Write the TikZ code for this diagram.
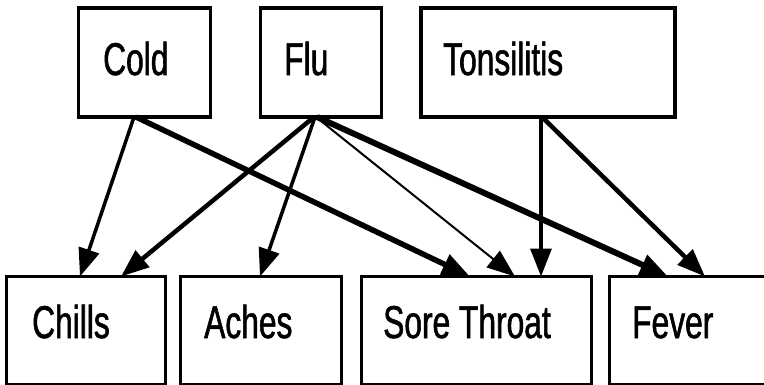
\documentclass[tikz,border=0pt]{standalone}
\usepackage{fontspec}
\setmainfont[FakeStretch=0.69,FakeBold=1.2]{Liberation Sans}
\usetikzlibrary{arrows.meta}
\tikzset{
  box/.style={draw, line width=3.2pt, rectangle, anchor=north west, inner sep=0pt, outer sep=0pt},
  lbl/.style={anchor=base west, inner sep=0pt, font=\fontsize{46}{50}\selectfont},
  edge/.style={-{Triangle[length=28pt,width=21pt]}, line join=miter},
}
\begin{document}
\begin{tikzpicture}[x=1pt,y=-1pt]
\useasboundingbox (0,0) rectangle (764,384);
% top row
\node[box, minimum width=132pt, minimum height=109pt] (cold) at (78.5,8) {};
\node[box, minimum width=121pt, minimum height=109pt] (flu) at (260.5,8) {};
\node[box, minimum width=254pt, minimum height=109pt] (tons) at (421,8) {};
\node[lbl] (coldt) at (103,75) {Cold};
\node[lbl] (flut) at (284,75) {Flu};
\node[lbl] (tonst) at (443,75) {Tonsilitis};
% bottom row
\node[box, minimum width=159pt, minimum height=108pt] (chills) at (6.5,276.5) {};
\node[box, minimum width=161pt, minimum height=108pt] (aches) at (180.5,276.5) {};
\node[box, minimum width=230pt, minimum height=108pt] (st) at (361.5,276.5) {};
\node[box, minimum width=200pt, minimum height=108pt] (fever) at (609.5,276.5) {};
\node[lbl] (chillst) at (32,338) {Chills};
\node[lbl] (achest) at (204,338) {Aches};
\node[lbl] (stt) at (383,338) {Sore Throat};
\node[lbl] (fevert) at (632,338) {Fever};
% edges
\draw[edge, line width=3.5pt] ([xshift=55.5pt]cold.south west) -- ([xshift=73.5pt]chills.north west);
\draw[edge, line width=5.5pt] ([xshift=57.5pt]cold.south west) -- ([xshift=108.5pt]st.north west);
\draw[edge, line width=4.5pt] ([xshift=53.5pt]flu.south west) -- ([xshift=114.5pt]chills.north west);
\draw[edge, line width=3.5pt] ([xshift=54.5pt]flu.south west) -- ([xshift=79.5pt]aches.north west);
\draw[edge, line width=2pt] ([xshift=55.5pt]flu.south west) -- ([xshift=153.5pt]st.north west);
\draw[edge, line width=6pt] ([xshift=56.5pt]flu.south west) -- ([xshift=58.5pt]fever.north west);
\draw[edge, line width=3.2pt] ([xshift=120pt]tons.south west) -- ([xshift=179.5pt]st.north west);
\draw[edge, line width=4.5pt] ([xshift=121pt]tons.south west) -- ([xshift=95.5pt]fever.north west);
\end{tikzpicture}
\end{document}
